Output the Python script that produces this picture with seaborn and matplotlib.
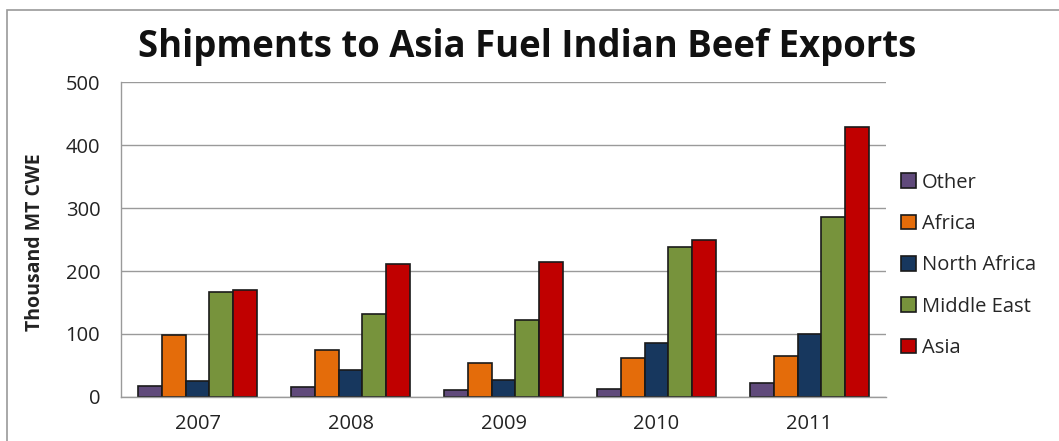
import matplotlib
matplotlib.use("Agg")
import matplotlib.pyplot as plt
import seaborn as sns
import pandas as pd
from matplotlib.patches import Rectangle

years = ["2007", "2008", "2009", "2010", "2011"]
regions = ["Other", "Africa", "North Africa", "Middle East", "Asia"]
other = [18, 16, 11, 13, 22]
africa = [98, 74, 54, 62, 65]
north_africa = [25, 43, 27, 86, 100]
middle_east = [166, 132, 123, 238, 286]
asia = [170, 211, 215, 249, 429]
colors = ["#604A7B", "#E46C0A", "#17375E", "#77933C", "#C00000"]

series = [other, africa, north_africa, middle_east, asia]
rows = []
for reg, vals in zip(regions, series):
    for y, v in zip(years, vals):
        rows.append({"Year": y, "Region": reg, "Value": v})
df = pd.DataFrame(rows)

sns.set_theme(style="white")
plt.rcParams['font.family'] = ['Open Sans', 'DejaVu Sans']

fig = plt.figure(figsize=(10.59, 4.41), dpi=100)
ax = fig.add_axes([0.1143, 0.0998, 0.8366 - 0.1143, 0.814 - 0.0998])

sns.barplot(data=df, x="Year", y="Value", hue="Region", hue_order=regions,
            order=years, palette=colors, width=0.78, ax=ax,
            edgecolor="#1a1a1a", linewidth=1.2, saturation=1, errorbar=None)

ax.set_ylim(0, 500)
ax.set_yticks([0, 100, 200, 300, 400, 500])
ax.set_xlim(-0.5, 4.5)
ax.yaxis.grid(True, color="#9a9a9a", linewidth=1.0)
ax.set_axisbelow(True)
for s in ["top", "right"]:
    ax.spines[s].set_visible(False)
for s in ["left", "bottom"]:
    ax.spines[s].set_color("#9a9a9a")
    ax.spines[s].set_linewidth(1.0)
ax.tick_params(axis="y", length=0, labelsize=14.5, colors="#222222", pad=15)
ax.tick_params(axis="x", length=0, labelsize=14.5, colors="#222222", pad=12)
ax.set_xlabel("")
ax.set_ylabel("Thousand MT CWE", fontsize=14, fontweight="bold", color="#222222")
ax.yaxis.set_label_coords(-0.099, 0.49)

fig.text(0.4976, (441 - 57) / 441, "Shipments to Asia Fuel Indian Beef Exports",
         ha="center", va="baseline", fontsize=26.3, fontweight="bold", color="#111111")

leg = ax.legend(loc="center left", bbox_to_anchor=(1.009, 0.418), frameon=False,
                fontsize=14.5, handlelength=0.75, handleheight=0.75, handletextpad=0.3,
                labelspacing=1.06, borderaxespad=0)

fig.patches.append(Rectangle((7 / 1059, -0.1), 1.2, (441 - 10) / 441 + 0.1,
                             transform=fig.transFigure, fill=False,
                             edgecolor="#9a9a9a", linewidth=1.2))

fig.savefig("out.png", dpi=100)
